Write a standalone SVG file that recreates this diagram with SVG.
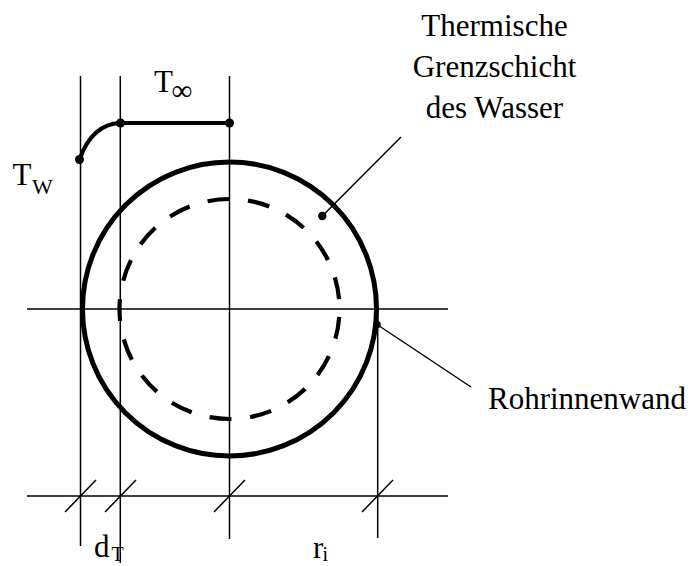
<svg xmlns="http://www.w3.org/2000/svg" width="690" height="566" viewBox="0 0 690 566">
<style>
.thin{stroke:#000;stroke-width:1.5;fill:none}
.thick{stroke:#000;stroke-width:5;fill:none}
.dash{stroke:#000;stroke-width:4.2;fill:none;stroke-dasharray:22 18.65;stroke-dashoffset:-8}
.dot{fill:#000}
.lbl{font-size:31px}
.sub{font-size:22px}
</style>
<rect width="690" height="566" fill="#fff"/>
<g id="axes">
<line class="thin" x1="80.5" y1="76" x2="80.5" y2="546"/>
<line class="thin" x1="120.3" y1="76" x2="120.3" y2="563"/>
<line class="thin" x1="229.5" y1="76" x2="229.5" y2="539"/>
<line class="thin" x1="377.7" y1="309" x2="377.7" y2="538"/>
<line class="thin" x1="27" y1="309" x2="448" y2="309"/>
<line class="thin" x1="27" y1="496" x2="448" y2="496"/>
<line class="thin" x1="65" y1="512" x2="96" y2="480"/>
<line class="thin" x1="105" y1="512" x2="136" y2="480"/>
<line class="thin" x1="214" y1="512" x2="245" y2="480"/>
<line class="thin" x1="362" y1="512" x2="393" y2="480"/>
</g>
<g id="pipe-wall">
<circle class="thick" cx="229.5" cy="309" r="147"/>
</g>
<g id="boundary-layer">
<circle class="dash" cx="229.5" cy="309" r="110"/>
</g>
<g id="temperature-profile">
<path class="thick" d="M79.5,159.5 Q92,124 120.5,123 L229.5,123" style="stroke-width:4.2"/>
<circle class="dot" cx="79.5" cy="159.5" r="4.5"/>
<circle class="dot" cx="120.5" cy="123" r="4.5"/>
<circle class="dot" cx="229.5" cy="123" r="4.5"/>
</g>
<g id="connectors">
<line class="thin" x1="401" y1="137" x2="322.3" y2="216"/>
<circle class="dot" cx="322.3" cy="216" r="4.2"/>
<line class="thin" x1="377" y1="324.5" x2="471" y2="387"/>
<circle class="dot" cx="377" cy="324.5" r="3.8"/>
</g>
<g font-family="'Liberation Serif', 'Times New Roman', serif" fill="#000">
<g id="label-boundary">
<text class="lbl" x="494.5" y="36" text-anchor="middle">Thermische</text>
<text class="lbl" x="494.5" y="77" text-anchor="middle">Grenzschicht</text>
<text class="lbl" x="494.5" y="118" text-anchor="middle">des Wasser</text>
</g>
<g id="label-wall">
<text class="lbl" x="488" y="409">Rohrinnenwand</text>
</g>
<g id="label-Tinf">
<text class="lbl" x="154" y="92">T</text><text x="171.5" y="99.5" font-size="29">∞</text>
</g>
<g id="label-Tw">
<text class="lbl" x="12.5" y="185">T</text><text class="sub" x="32" y="194">W</text>
</g>
<g id="label-dT">
<text class="lbl" x="94" y="557">d</text><text x="111.5" y="561" font-size="20">T</text>
</g>
<g id="label-ri">
<text class="lbl" x="313" y="558">r</text><text x="322.5" y="561" font-size="20">i</text>
</g>
</g>
</svg>
